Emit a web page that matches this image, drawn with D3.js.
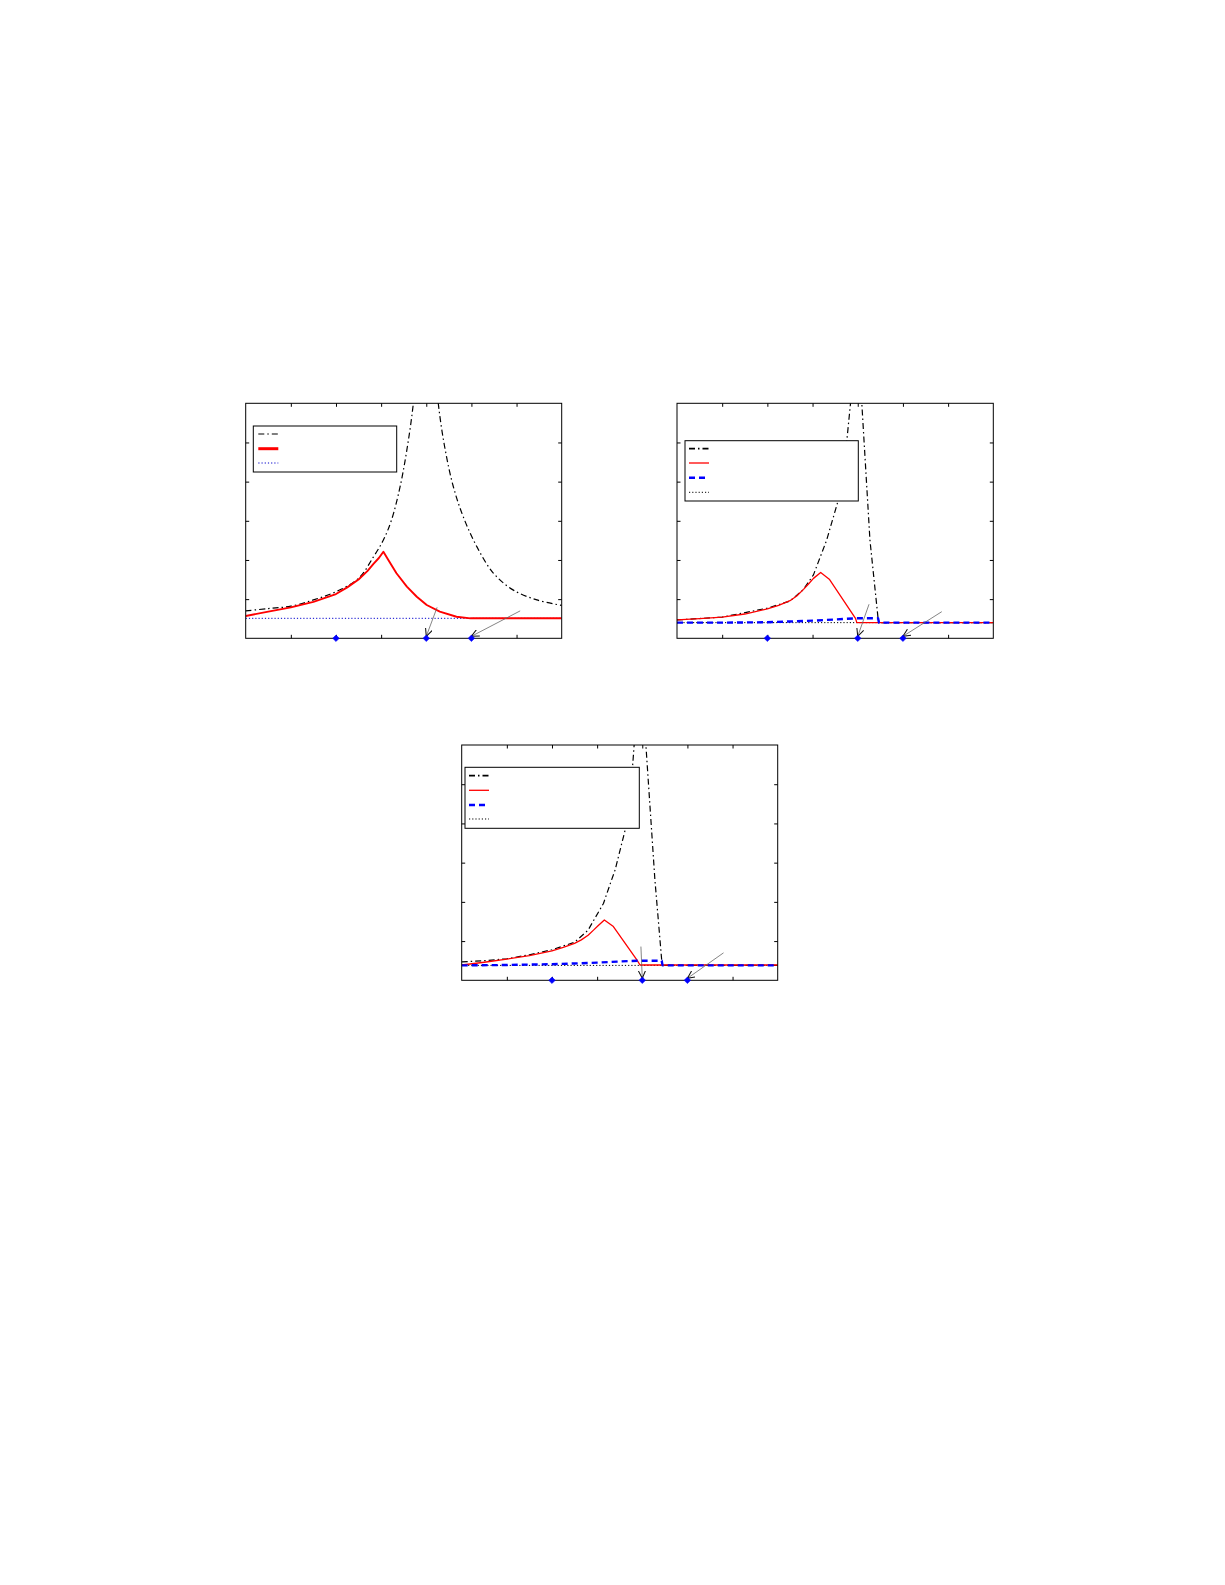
<!DOCTYPE html>
<html>
<head>
<meta charset="utf-8">
<script src="https://cdn.jsdelivr.net/npm/d3@7"></script>
<style>
  body { margin: 0; background: #fff; }
  svg { display: block; }
</style>
</head>
<body>
<div id="chart"></div>
<script>
// values, axes run 0..7 (x) and 0..6 (y)
const xTicks = [1, 2, 3, 4, 5, 6];
const yTicks = [1, 2, 3, 4, 5];
const markerX = [2, 4, 5];

// panel 1
const black1 = [[0,0.70],[0.5,0.76],[1,0.82],[1.5,0.98],[2,1.19],[2.5,1.53],[2.83,2.08],[3.05,2.51],[3.23,3.02],[3.42,3.87],[3.57,4.81],[3.71,5.96],[3.85,7.8],[4.0,9.5],[4.14,7.8],[4.27,5.96],[4.42,4.81],[4.6,3.87],[4.82,3.10],[5.12,2.34],[5.49,1.66],[5.93,1.23],[6.45,0.98],[7,0.84]];
const red1 = [[0,0.57],[0.5,0.68],[1,0.79],[1.5,0.93],[2,1.13],[2.25,1.30],[2.5,1.50],[2.7,1.72],[2.83,1.9],[2.95,2.05],[3.05,2.21],[3.16,2.0],[3.34,1.66],[3.57,1.32],[3.79,1.06],[4.01,0.85],[4.3,0.68],[4.67,0.55],[4.98,0.51],[7,0.51]];
const dotted1 = [[0,0.51],[7,0.51]];
const arrows1 = [[4.24,0.79,4,0],[6.08,0.70,5,0]];

// panel 2
const black2 = [[0,0.47],[1,0.54],[2,0.77],[2.5,0.95],[2.8,1.25],[3.02,1.62],[3.31,2.5],[3.57,3.53],[3.72,4.6],[3.84,6.0],[3.96,7.6],[4.09,6.0],[4.27,2.51],[4.45,0.51],[4.47,0.40],[7,0.40]];
const red2 = [[0,0.47],[0.5,0.50],[1,0.54],[1.5,0.62],[2,0.75],[2.25,0.84],[2.5,0.96],[2.65,1.08],[2.8,1.25],[2.92,1.40],[3.02,1.53],[3.18,1.68],[3.37,1.51],[3.95,0.51],[3.98,0.40],[7,0.40]];
const blue2 = [[0,0.40],[1,0.40],[2,0.41],[2.5,0.43],[3,0.45],[3.5,0.48],[3.95,0.51],[4.45,0.51],[4.47,0.40],[7,0.40]];
const dotted2 = [[0,0.40],[7,0.40]];
const arrows2 = [[4.25,0.87,4,0],[5.86,0.68,5,0]];

// panel 3
const black3 = [[0,0.47],[0.5,0.50],[1,0.55],[1.5,0.65],[2,0.78],[2.5,0.97],[2.8,1.28],[3.14,1.96],[3.32,2.56],[3.4,2.82],[3.62,3.83],[3.75,4.9],[3.82,6.0],[3.95,7.6],[4.08,6.0],[4.28,2.56],[4.43,0.52],[4.45,0.38],[7,0.38]];
const red3 = [[0,0.39],[0.5,0.46],[1,0.54],[1.5,0.63],[2,0.75],[2.25,0.84],[2.5,0.94],[2.65,1.03],[2.8,1.15],[2.92,1.28],[3.02,1.39],[3.16,1.54],[3.36,1.37],[3.88,0.52],[3.95,0.39],[7,0.39]];
const blue3 = [[0,0.38],[1,0.39],[2,0.41],[2.5,0.43],[3,0.45],[3.5,0.48],[3.9,0.50],[4.43,0.50],[4.45,0.38],[7,0.38]];
const dotted3 = [[0,0.38],[7,0.38]];
const arrows3 = [[3.97,0.86,4,0],[5.8,0.70,5,0]];

// line styles
const styles = {
  dashdot: { stroke: "#000", width: 1.2, dash: "6,3,1.5,3" },
  red: { stroke: "#ff0000", width: 1.3, dash: null },
  redThick: { stroke: "#ff0000", width: 1.9, dash: null },
  blue: { stroke: "#0000ff", width: 2.4, dash: "6,4" },
  dotBlue: { stroke: "#0000cc", width: 1, dash: "1.2,2" },
  dotBlack: { stroke: "#000", width: 1, dash: "1.2,2" }
};

// layout of the three panels
const panels = [
  { left: 245.7, top: 403.3, w: 316, h: 235,
    series: [[dotted1, "dotBlue"], [black1, "dashdot", true], [red1, "redThick"]],
    arrows: arrows1,
    legend: { x: 7.6, y: 22.7, w: 143.4, h: 46, sx: 12.6, rows: [30.7, 45.4, 59.7],
              keys: ["dashdot", "redThick", "dotBlue"], thick: [1.2, 3, 1] } },
  { left: 677, top: 403.3, w: 316.3, h: 235,
    series: [[dotted2, "dotBlack"], [black2, "dashdot"], [red2, "red"], [blue2, "blue"]],
    arrows: arrows2,
    legend: { x: 8, y: 37.4, w: 173.3, h: 60.3, sx: 12, rows: [45.4, 59.7, 74.4, 89],
              keys: ["dashdot", "red", "blue", "dotBlack"], thick: [1.8, 1.3, 2.4, 1] } },
  { left: 461.7, top: 745, w: 316, h: 235.3,
    series: [[dotted3, "dotBlack"], [black3, "dashdot"], [red3, "red"], [blue3, "blue"]],
    arrows: arrows3,
    legend: { x: 3.3, y: 22.3, w: 174.3, h: 61, sx: 7.3, rows: [30.7, 45.3, 60, 74],
              keys: ["dashdot", "red", "blue", "dotBlack"], thick: [1.8, 1.3, 2.4, 1] } }
];

const svg = d3.select("#chart").append("svg")
  .attr("width", 1225)
  .attr("height", 1585);

// arrow head
svg.append("defs").append("marker")
  .attr("id", "head")
  .attr("markerUnits", "userSpaceOnUse")
  .attr("viewBox", "0 0 10 10")
  .attr("refX", 9.5).attr("refY", 5)
  .attr("markerWidth", 8).attr("markerHeight", 8)
  .attr("orient", "auto")
  .append("path")
  .attr("d", "M0,0.5 L9.5,5 L0,9.5")
  .attr("fill", "none")
  .attr("stroke", "#111")
  .attr("stroke-width", 1.3);

panels.forEach((p, i) => {
  const x = d3.scaleLinear().domain([0, 7]).range([0, p.w]);
  const y = d3.scaleLinear().domain([0, 6]).range([p.h, 0]);

  const g = svg.append("g").attr("transform", `translate(${p.left}, ${p.top})`);

  g.append("clipPath").attr("id", "clip" + i)
    .append("rect").attr("width", p.w).attr("height", p.h);

  const line = d3.line().x(d => x(d[0])).y(d => y(d[1]));
  const smoothLine = d3.line().x(d => x(d[0])).y(d => y(d[1])).curve(d3.curveCatmullRom.alpha(0.5));

  const plot = g.append("g").attr("clip-path", `url(#clip${i})`);
  p.series.forEach(([data, key, smooth]) => {
    const s = styles[key];
    plot.append("path")
      .attr("d", smooth ? smoothLine(data) : line(data))
      .attr("fill", "none")
      .attr("stroke", s.stroke)
      .attr("stroke-width", s.width)
      .attr("stroke-dasharray", s.dash)
      .attr("stroke-linejoin", "round");
  });

  // ticks pointing inward on all four sides
  const tickAxes = [
    [d3.axisBottom(x).tickValues(xTicks), `translate(0,${p.h})`],
    [d3.axisTop(x).tickValues(xTicks), "translate(0,0)"],
    [d3.axisLeft(y).tickValues(yTicks), "translate(0,0)"],
    [d3.axisRight(y).tickValues(yTicks), `translate(${p.w},0)`]
  ];
  tickAxes.forEach(([ax, tr]) => {
    const a = g.append("g").attr("transform", tr)
      .call(ax.tickSize(-3.5).tickSizeOuter(0).tickFormat(""));
    a.select(".domain").remove();
    a.selectAll("line").attr("stroke", "#000").attr("stroke-width", 1);
  });

  g.append("rect")
    .attr("width", p.w).attr("height", p.h)
    .attr("fill", "none").attr("stroke", "#000").attr("stroke-width", 1);

  // arrows to the markers
  g.selectAll(".arrow").data(p.arrows).enter().append("line")
    .attr("class", "arrow")
    .attr("x1", d => x(d[0])).attr("y1", d => y(d[1]))
    .attr("x2", d => x(d[2])).attr("y2", d => y(d[3]) - 2)
    .attr("stroke", "#666").attr("stroke-width", 0.8)
    .attr("marker-end", "url(#head)");

  // blue diamonds on the x axis
  g.selectAll(".mark").data(markerX).enter().append("path")
    .attr("class", "mark")
    .attr("d", "M0,-3.3 L3.3,0 L0,3.3 L-3.3,0 Z")
    .attr("transform", d => `translate(${x(d)}, ${y(0)})`)
    .attr("fill", "#0000ff")
    .attr("stroke", "#0000ff")
    .attr("stroke-width", 0.5);

  // legend (entries without text)
  const L = p.legend;
  const lg = g.append("g").attr("transform", `translate(${L.x}, ${L.y})`);
  lg.append("rect")
    .attr("width", L.w).attr("height", L.h)
    .attr("fill", "#fff").attr("stroke", "#000").attr("stroke-width", 1);
  L.keys.forEach((k, j) => {
    const s = styles[k];
    lg.append("line")
      .attr("x1", L.sx - L.x).attr("x2", L.sx - L.x + 20)
      .attr("y1", L.rows[j] - L.y).attr("y2", L.rows[j] - L.y)
      .attr("stroke", s.stroke)
      .attr("stroke-width", L.thick[j])
      .attr("stroke-dasharray", s.dash);
  });
});
</script>
</body>
</html>
